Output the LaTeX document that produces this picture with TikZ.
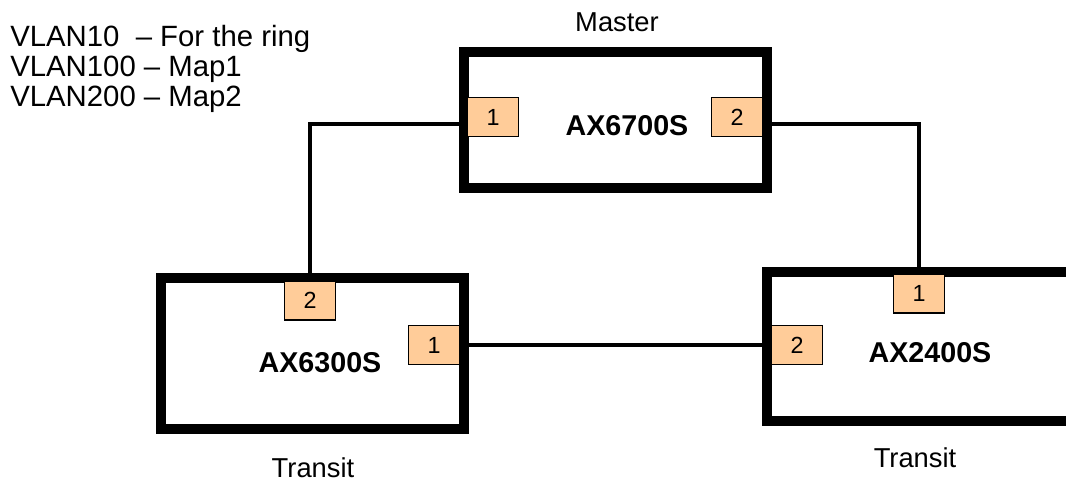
\documentclass[tikz,border=0pt]{standalone}
\usepackage{fontspec}
\setmainfont{Liberation Sans}
\definecolor{portfill}{RGB}{255,204,153}

\tikzset{
  switchbox/.style={draw, line width=7.5pt, fill=white, minimum width=227.25pt, inner sep=0pt},
  port/.style={draw, line width=1.1pt, fill=portfill, minimum width=38pt, minimum height=29pt,
    inner sep=0pt, font=\fontsize{17.5}{19}\selectfont},
  swname/.style={font=\fontsize{21.5}{24}\selectfont\bfseries},
  role/.style={font=\fontsize{20.5}{24}\selectfont},
  legend/.style={anchor=base west, inner sep=0pt, font=\fontsize{22}{24}\selectfont},
  link/.style={line width=3.4pt},
}

\begin{document}
\begin{tikzpicture}[x=0.75pt, y=-0.75pt]

\useasboundingbox (0,0) rectangle (1066,484);
\clip (0,0) rectangle (1066,484);

% legend
\node[legend] (vlan10) at (10,47) {VLAN10\ \ -- For the ring};
\node[legend] (vlan100) at (10,77) {VLAN100 -- Map1};
\node[legend] (vlan200) at (10,107) {VLAN200 -- Map2};

% switches
\node[switchbox, minimum height=102pt] (ax67) at (615.5,120) {};
\node[switchbox, minimum height=113.25pt] (ax63) at (312.5,353.5) {};
\node[switchbox, minimum width=234.75pt, minimum height=112pt] (ax24) at (923.5,346.75) {};

% switch names
\node[swname] (ax67name) at (627,126) {AX6700S};
\node[swname] (ax63name) at (320,363) {AX6300S};
\node[swname] (ax24name) at (930,353) {AX2400S};

% roles
\node[role] (master) at (617,22) {Master};
\node[role] (transit63) at (313,468) {Transit};
\node[role] (transit24) at (915,458) {Transit};

% ports
\node[port] (m1) at (493,117) {1};
\node[port] (m2) at (737,117) {2};
\node[port] (s2) at (310,300.5) {2};
\node[port] (s1) at (434,345) {1};
\node[port] (t1) at (919,293.5) {1};
\node[port] (t2) at (797,345) {2};

% ring links
\draw[link] ([yshift=-5.25pt]m1.west) -| (s2.north);
\draw[link] ([yshift=-5.25pt]m2.east) -| (t1.north);
\draw[link] (s1.east) -- (t2.west);

\end{tikzpicture}
\end{document}
